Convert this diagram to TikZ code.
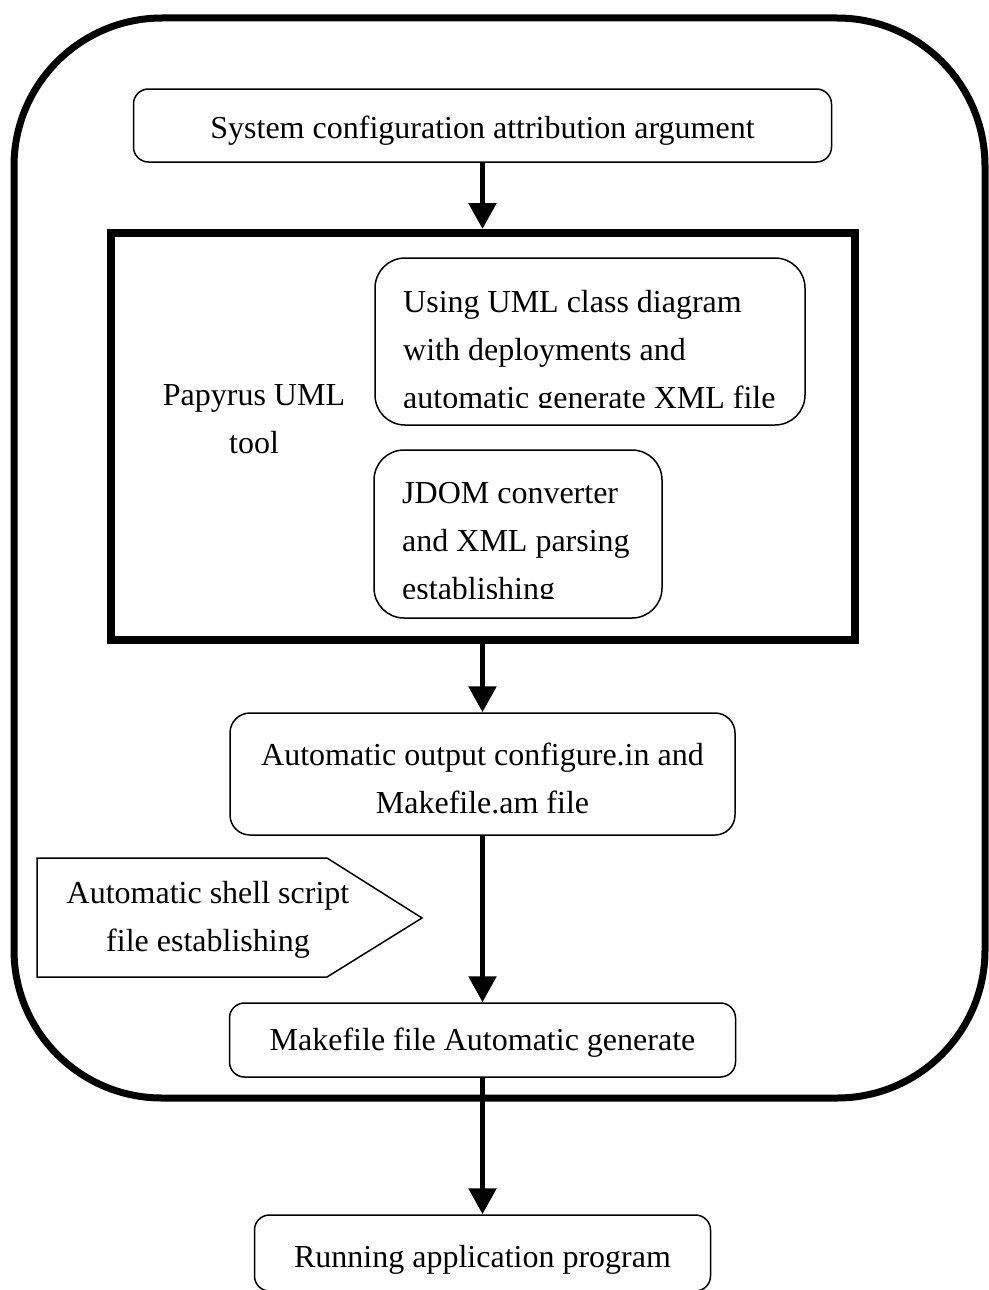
\documentclass[tikz,border=0pt]{standalone}
\usepackage{fontspec}
\setmainfont{Liberation Serif}
\usetikzlibrary{arrows.meta}
\begin{document}
\begin{tikzpicture}[x=1pt,y=-1pt,
  box/.style={draw,line width=1.5pt,rounded corners=#1,inner sep=0pt},
  box/.default=15pt,
  flow/.style={line width=5.5pt,-{Triangle[width=27pt,length=26pt]}},
  txt/.style={inner sep=0pt,font=\fontsize{32}{48}\selectfont},
]
\useasboundingbox (0,0) rectangle (988,1290);

% outer frame
\draw[line width=7pt,rounded corners=148pt] (14,18) rectangle (985,1098);

% boxes
\node[box,minimum width=698pt,minimum height=73pt] (sys) at (482.5,125.5) {};
\node[draw,line width=8pt,inner sep=0pt,minimum width=744pt,minimum height=407pt] (frame) at (482.5,436.5) {};
\node[box=30pt,minimum width=430pt,minimum height=167pt] (uml) at (590,341.5) {};
\node[box=30pt,minimum width=288pt,minimum height=168pt] (jdom) at (518,534) {};
\node[box=20pt,minimum width=505pt,minimum height=122pt] (auto) at (482.5,774) {};
\node[box,minimum width=506pt,minimum height=74pt] (make) at (482.5,1040) {};
\node[box,minimum width=456pt,minimum height=76pt] (run) at (482.5,1253) {};

% shell script tag
\draw[line width=1.5pt] (37,858) -- (327,858) -- (422,918) -- (327,977) -- (37,977) -- cycle;

% texts
\node[txt,anchor=base] (systxt) at (482.5,138) {System configuration attribution argument};
\node[txt,anchor=base] (paptxt) at (254,405) {\begin{tabular}[t]{@{}c@{}}Papyrus UML\\tool\end{tabular}};
\begin{scope}
  \clip (375,258) rectangle (805,407);
  \node[txt,anchor=base west] (umltxt) at (403,312) {\begin{tabular}[t]{@{}l@{}}Using UML class diagram\\with deployments and\\automatic generate XML file\end{tabular}};
\end{scope}
\begin{scope}
  \clip (374,450) rectangle (662,598);
  \node[txt,anchor=base west] (jdomtxt) at (402,503) {\begin{tabular}[t]{@{}l@{}}JDOM converter\\and XML parsing\\establishing\end{tabular}};
\end{scope}
\node[txt,anchor=base] (autotxt) at (482.5,765) {\begin{tabular}[t]{@{}c@{}}Automatic output configure.in and\\Makefile.am file\end{tabular}};
\node[txt,anchor=base] (shelltxt) at (208,903) {\begin{tabular}[t]{@{}c@{}}Automatic shell script\\file establishing\end{tabular}};
\node[txt,anchor=base] (maketxt) at (482.5,1050) {Makefile file Automatic generate};
\node[txt,anchor=base] (runtxt) at (482.5,1267) {Running application program};

% flow arrows
\draw[flow] (sys.south) -- (frame.north);
\draw[flow] (frame.south) -- (auto.north);
\draw[flow] (auto.south) -- (make.north);
\draw[flow] (make.south) -- (run.north);
\end{tikzpicture}
\end{document}
